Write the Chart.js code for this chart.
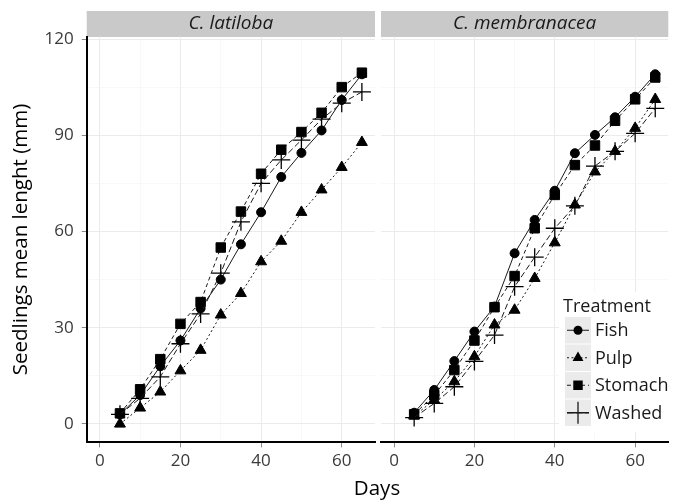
<!DOCTYPE html>
<html>
<head>
<meta charset="utf-8">
<script src="https://cdn.jsdelivr.net/npm/chart.js@4.4.0/dist/chart.umd.min.js"></script>
<style>
  html, body { margin: 0; padding: 0; background: #fff; }
  #wrap { position: relative; width: 673px; height: 500px; overflow: hidden; }
  #c1 { position: absolute; left: 0; top: 0; }
  #c2 { position: absolute; left: 378px; top: 0; }
  #xTitle {
    position: absolute; left: 277px; width: 200px; top: 476px;
    text-align: center; font: 20.5px "Open Sans", sans-serif; line-height: 22px; color: #000;
  }
</style>
</head>
<body>
<div id="wrap">
  <canvas id="c1" width="378" height="500"></canvas>
  <canvas id="c2" width="295" height="500"></canvas>
  <div id="xTitle">Days</div>
</div>
<script>
// ===== DATA =====
const days = [5, 10, 15, 20, 25, 30, 35, 40, 45, 50, 55, 60, 65];
const treatments = ['Fish', 'Pulp', 'Stomach', 'Washed'];
const panels = ['C. latiloba', 'C. membranacea'];

// C. latiloba
const latFish    = [3, 9, 18, 26, 36, 45, 56, 66, 77, 84.5, 91.5, 101, 109];
const latPulp    = [0, 5, 10, 16.6, 23, 34, 40.7, 50.6, 57, 66, 73, 80, 87.8];
const latStomach = [3.3, 10.8, 20.2, 31.2, 38, 55, 66.2, 78, 85.5, 91, 97, 105, 109.5];
const latWashed  = [3, 8, 14.7, 25, 34.3, 47, 63, 75, 82.3, 88.5, 95, 100, 103.5];

// C. membranacea
const memFish    = [3.5, 10.6, 19.6, 28.8, 36.6, 53.2, 63.6, 72.7, 84.4, 90.1, 95.6, 102, 109];
const memPulp    = [2.5, 7.5, 13.2, 21, 30.9, 35.5, 45.4, 56.5, 68.3, 78.6, 85, 92.2, 101.2];
const memStomach = [3, 9, 16.8, 26, 36.4, 46.1, 61, 71.4, 80.7, 86.8, 94.5, 101.2, 108];
const memWashed  = [2, 6.4, 11.6, 19.5, 27.7, 42.8, 52, 61, 68, 80.4, 85, 90.6, 98.4];

const xTicks = [0, 20, 40, 60];
const xMinor = [10, 30, 50];
const yTicks = [0, 30, 60, 90, 120];
const yMinor = [15, 45, 75, 105];

// ===== STYLES =====
const FONT = '"Open Sans", sans-serif';
const markers = {
  Fish:    { style: 'circle',   r: 4.5, dash: [] },
  Pulp:    { style: 'triangle', r: 6.3, dash: [2, 2.5] },
  Stomach: { style: 'rect',     r: 6.7, dash: [4, 3] },
  Washed:  { style: 'cross',    r: 9,   dash: [6, 3] }
};

function toPoints(vals) {
    return days.map((d, i) => ({ x: d, y: vals[i] }));
}

function makeDatasets(series) {
    return treatments.map((t, i) => {
        const m = markers[t];
        return {
            label: t,
            data: toPoints(series[i]),
            order: treatments.length - i,
            borderColor: '#1a1a1a',
            borderWidth: 1,
            borderDash: m.dash,
            backgroundColor: '#000',
            pointStyle: m.style,
            pointRadius: m.r,
            pointBackgroundColor: '#000',
            pointBorderColor: '#000',
            pointBorderWidth: m.style === 'cross' ? 1.3 : 1,
            tension: 0
        };
    });
}

// ===== MARKER DRAW (legend) =====
function drawMarker(ctx, style, x, y, r) {
    ctx.beginPath();
    if (style === 'circle') {
        ctx.arc(x, y, r, 0, Math.PI * 2);
        ctx.fill();
    } else if (style === 'triangle') {
        ctx.moveTo(x, y - r);
        ctx.lineTo(x + 0.866 * r, y + 0.5 * r);
        ctx.lineTo(x - 0.866 * r, y + 0.5 * r);
        ctx.closePath();
        ctx.fill();
    } else if (style === 'rect') {
        const s = r * Math.SQRT1_2;
        ctx.rect(x - s, y - s, 2 * s, 2 * s);
        ctx.fill();
    } else {
        ctx.lineWidth = 1.3;
        ctx.moveTo(x - r, y); ctx.lineTo(x + r, y);
        ctx.moveTo(x, y - r); ctx.lineTo(x, y + r);
        ctx.stroke();
    }
}

// ===== STRIP PLUGIN =====
const stripPlugin = {
    id: 'strip',
    beforeDraw(chart, args, opts) {
        const { ctx, chartArea } = chart;
        ctx.save();
        ctx.fillStyle = '#c9c9c9';
        ctx.fillRect(chartArea.left, 11, chartArea.right - chartArea.left, 26);
        ctx.fillStyle = '#1a1a1a';
        ctx.font = 'italic 19px ' + FONT;
        ctx.textAlign = 'center';
        ctx.textBaseline = 'middle';
        ctx.fillText(opts.text, (chartArea.left + chartArea.right) / 2, 24);
        ctx.restore();
    }
};

// ===== LEGEND PLUGIN =====
const keyPlugin = {
    id: 'keyLegend',
    afterDraw(chart, args, opts) {
        if (!opts.show) return;
        const ctx = chart.ctx;
        const x0 = 187, top = 317, rowH = 27.5, keyW = 26;
        ctx.save();
        ctx.fillStyle = '#fff';
        ctx.fillRect(181, 292, 109, 140);
        ctx.fillStyle = '#1a1a1a';
        ctx.font = '18px ' + FONT;
        ctx.textAlign = 'left';
        ctx.textBaseline = 'middle';
        ctx.fillText('Treatment', 185, 307);
        treatments.forEach((t, i) => {
            const y = top + i * rowH;
            const m = markers[t];
            ctx.fillStyle = '#ebebeb';
            ctx.fillRect(x0, y, keyW, rowH - 1);
            const cy = y + (rowH - 1) / 2;
            ctx.strokeStyle = '#1a1a1a';
            ctx.fillStyle = '#000';
            ctx.lineWidth = 1;
            ctx.setLineDash(m.dash);
            ctx.beginPath();
            ctx.moveTo(x0 + 2, cy); ctx.lineTo(x0 + keyW - 2, cy);
            ctx.stroke();
            ctx.setLineDash([]);
            drawMarker(ctx, m.style, x0 + keyW / 2, cy, m.style === 'cross' ? 11 : m.r);
            ctx.fillStyle = '#1a1a1a';
            ctx.fillText(t, 217, cy + 1);
        });
        ctx.restore();
    }
};

// ===== SCALES =====
function tickList(major, minor) {
    return major.concat(minor).sort((a, b) => a - b).map(v => ({ value: v }));
}

function gridOpts(major) {
    return {
        color: c => major.includes(c.tick && c.tick.value) ? '#ebebeb' : '#f4f4f4',
        lineWidth: c => major.includes(c.tick && c.tick.value) ? 1 : 0.6,
        tickLength: 5,
        tickColor: c => major.includes(c.tick && c.tick.value) ? '#8a8a8a' : 'rgba(0,0,0,0)'
    };
}

function makePanel(canvasId, title, series, isLeft) {
    const ctx = document.getElementById(canvasId).getContext('2d');
    const yScale = {
        type: 'linear',
        min: -5.75,
        max: 120.75,
        afterBuildTicks: s => { s.ticks = tickList(yTicks, yMinor); },
        grid: isLeft ? gridOpts(yTicks) : Object.assign(gridOpts(yTicks), { drawTicks: false }),
        border: { display: isLeft, color: '#000', width: 2 },
        ticks: {
            display: isLeft,
            autoSkip: false,
            padding: 8,
            color: '#3a3a3a',
            font: { family: FONT, size: 17 },
            callback: v => yTicks.includes(v) ? String(v) : ''
        },
        title: {
            display: isLeft,
            text: 'Seedlings mean lenght (mm)',
            color: '#000',
            font: { family: FONT, size: 20.5 },
            padding: { top: 9, bottom: 0 }
        },
        afterFit: s => {
            s.width = isLeft ? 86.7 : 0;
            s.paddingTop = 0;
            s.paddingBottom = 0;
        }
    };

    return new Chart(ctx, {
        type: 'line',
        data: { datasets: makeDatasets(series) },
        plugins: [stripPlugin, keyPlugin],
        options: {
            responsive: false,
            animation: false,
            layout: {
                autoPadding: false,
                padding: isLeft
                    ? { left: 0, right: 3, top: 36.6, bottom: 0 }
                    : { left: 3, right: 4.7, top: 36.6, bottom: 0 }
            },
            scales: {
                x: {
                    type: 'linear',
                    min: -3.25,
                    max: 68.25,
                    afterBuildTicks: s => { s.ticks = tickList(xTicks, xMinor); },
                    grid: gridOpts(xTicks),
                    border: { display: true, color: '#000', width: 2 },
                    ticks: {
                        autoSkip: false,
                        maxRotation: 0,
                        padding: 4,
                        color: '#3a3a3a',
                        font: { family: FONT, size: 17 },
                        callback: v => xTicks.includes(v) ? String(v) : ''
                    },
                    afterFit: s => {
                        s.height = 57.6;
                        s.paddingLeft = 0;
                        s.paddingRight = 0;
                    }
                },
                y: yScale
            },
            plugins: {
                legend: { display: false },
                tooltip: { enabled: false },
                strip: { text: title },
                keyLegend: { show: !isLeft }
            }
        }
    });
}

makePanel('c1', panels[0], [latFish, latPulp, latStomach, latWashed], true);
makePanel('c2', panels[1], [memFish, memPulp, memStomach, memWashed], false);
</script>
</body>
</html>
